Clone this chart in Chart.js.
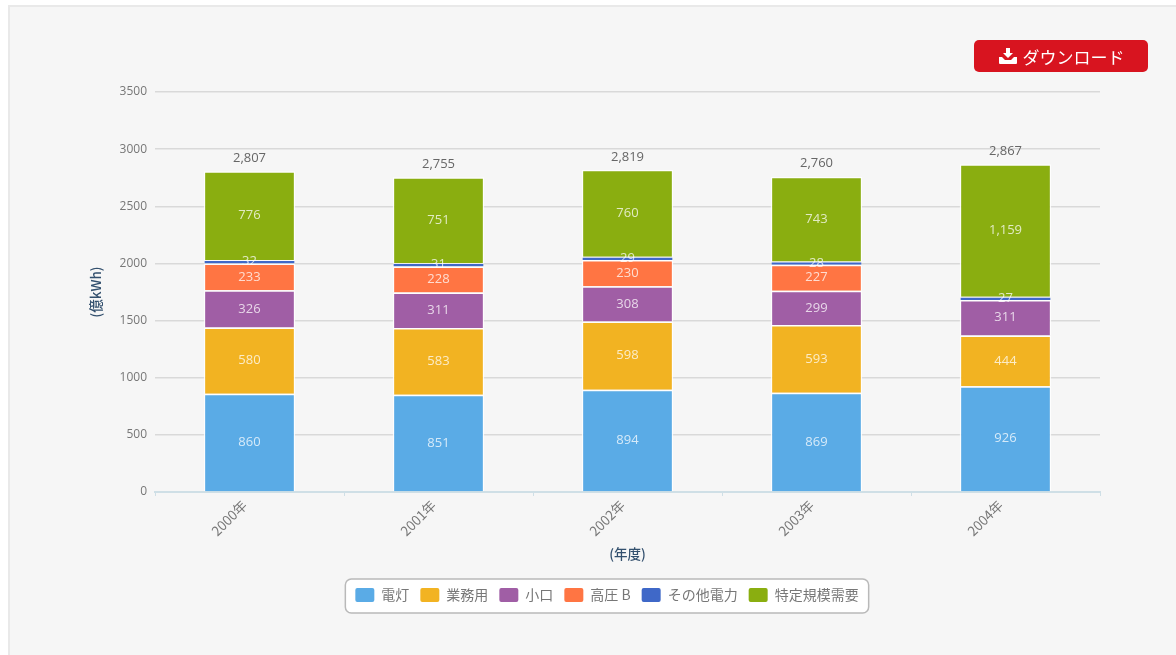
<!DOCTYPE html>
<html lang="ja">
<head>
<meta charset="utf-8">
<title>電力需要</title>
<script src="https://cdn.jsdelivr.net/npm/chart.js@4/dist/chart.umd.min.js"></script>
<style>
  html, body { margin: 0; width: 1176px; height: 655px; overflow: hidden; background: #fff; }
  #panel { position: absolute; left: 8px; top: 5px; width: 1180px; height: 660px; background: #f6f6f6; border: 2px solid #e9e9e9; box-sizing: border-box; }
  #chartWrap { position: absolute; left: 0; top: 0; width: 1176px; height: 655px; filter: blur(0.6px); }
  #download { position: absolute; left: 974px; top: 40px; width: 174px; height: 32px; background: #d8141f; color: #fff; border: 0; border-radius: 5px; font: 17px "Noto Sans CJK JP", sans-serif; display: flex; align-items: center; justify-content: center; gap: 5px; padding: 0; filter: blur(0.5px); }
</style>
</head>
<body>
<div id="panel"></div>
<div id="chartWrap"><canvas id="dataChart" width="1176" height="655"></canvas></div>
<button id="download">
  <svg width="20" height="16" viewBox="0 0 20 16"><path fill="#fff" d="M8 0h4v5h3l-5 5-5-5h3zM1 9h3l3 3h6l3-3h3v6a1 1 0 0 1-1 1H2a1 1 0 0 1-1-1z"/></svg>
  ダウンロード
</button>
<script>
// values (億kWh)
const years = ['2000年', '2001年', '2002年', '2003年', '2004年'];
const dento = [860, 851, 894, 869, 926];
const gyomu = [580, 583, 598, 593, 444];
const koguchi = [326, 311, 308, 299, 311];
const koatsuB = [233, 228, 230, 227, null];
const sonota = [32, 31, 29, 28, 27];
const tokutei = [776, 751, 760, 743, 1159];
const totals = [2807, 2755, 2819, 2760, 2867];
const yTicks = [0, 500, 1000, 1500, 2000, 2500, 3000, 3500];

const numFont = '"Open Sans", sans-serif';
const jpFont = '"Noto Sans CJK JP", sans-serif';
const legendShift = 15; // the legend sits right of the plot's centre

// value labels inside the bars and the totals on top
const barLabels = {
  id: 'barLabels',
  afterDatasetsDraw(chart) {
    const ctx = chart.ctx;
    ctx.save();
    ctx.textAlign = 'center';
    ctx.textBaseline = 'middle';
    chart.data.datasets.forEach((ds, i) => {
      chart.getDatasetMeta(i).data.forEach((bar, j) => {
        if (ds.data[j] == null) return;
        ctx.font = '13px ' + numFont;
        ctx.fillStyle = 'rgba(255,255,255,0.75)';
        ctx.fillText(ds.data[j].toLocaleString('en-US'), bar.x, (bar.y + bar.base) / 2);
      });
    });
    const top = chart.getDatasetMeta(chart.data.datasets.length - 1).data;
    ctx.font = '500 13px ' + numFont;
    ctx.fillStyle = '#666';
    totals.forEach((t, j) => ctx.fillText(t.toLocaleString('en-US'), top[j].x, top[j].y - 13));
    ctx.restore();
  }
};

// rounded white box behind the legend
const legendBox = {
  id: 'legendBox',
  afterLayout(chart) {
    const legend = chart.legend;
    legend.left += legendShift;
    legend.right += legendShift;
    legend.legendHitBoxes.forEach(hit => { hit.left += legendShift; });
  },
  beforeDraw(chart) {
    const hits = chart.legend.legendHitBoxes;
    const last = hits[hits.length - 1];
    const x = hits[0].left - 10, y = hits[0].top - 9;
    const w = last.left + last.width - hits[0].left + 20, h = 34;
    const ctx = chart.ctx;
    ctx.save();
    ctx.beginPath();
    ctx.roundRect(x, y, w, h, 6);
    ctx.fillStyle = '#fff';
    ctx.fill();
    ctx.lineWidth = 1.5;
    ctx.strokeStyle = '#b9b9b9';
    ctx.stroke();
    ctx.restore();
  }
};

function makeSet(label, data, color) {
  return { label, data, backgroundColor: color, borderColor: 'rgba(255,255,255,0.85)', borderWidth: 1.5, borderRadius: 0, barPercentage: 0.485, categoryPercentage: 1 };
}

const thinSet = makeSet('その他電力', sonota, '#3f68c8');
thinSet.borderWidth = 1;
thinSet.borderColor = 'rgba(255,255,255,0.5)';

new Chart(document.getElementById('dataChart').getContext('2d'), {
  type: 'bar',
  data: {
    labels: years,
    datasets: [
      makeSet('電灯', dento, '#5aabe6'),
      makeSet('業務用', gyomu, '#f2b322'),
      makeSet('小口', koguchi, '#a05ea5'),
      makeSet('高圧 B', koatsuB, '#ff7543'),
      thinSet,
      makeSet('特定規模需要', tokutei, '#8aae10')
    ]
  },
  options: {
    responsive: false,
    animation: false,
    layout: { padding: { left: 84, right: 76, top: 92, bottom: 43 } },
    plugins: {
      tooltip: { enabled: false },
      legend: {
        position: 'bottom',
        labels: {
          boxWidth: 19, boxHeight: 14, padding: 11, color: '#777', font: { family: jpFont, size: 14 },
          generateLabels(chart) {
            return chart.data.datasets.map((ds, i) => ({
              text: ds.label, fillStyle: ds.backgroundColor, strokeStyle: ds.backgroundColor, lineWidth: 0,
              fontColor: '#777', borderRadius: 2, datasetIndex: i
            }));
          },
          useBorderRadius: true
        }
      }
    },
    scales: {
      x: {
        stacked: true,
        afterFit(scale) { scale.height = 85; },
        border: { color: '#cfdfe6', width: 2 },
        grid: { drawOnChartArea: false, drawTicks: true, tickLength: 4, color: '#cfdfe6' },
        ticks: { color: '#777', maxRotation: 45, minRotation: 45, labelOffset: -5, padding: 1, font: { family: jpFont, size: 13.5 } },
        title: { display: true, text: '(年度)', color: '#33506e', padding: { top: 4, bottom: 15 }, font: { family: jpFont, size: 13.5, weight: '500' } }
      },
      y: {
        stacked: true,
        min: 0,
        max: 3500,
        afterFit(scale) { scale.width = 71; },
        afterBuildTicks(scale) { scale.ticks = yTicks.map(value => ({ value })); },
        border: { display: false },
        grid: { color: '#d9d9d9', lineWidth: 1.5, drawTicks: false },
        ticks: { color: '#777', padding: 8, callback: value => String(value), font: { family: numFont, size: 12 } },
        title: { display: true, text: '(億kWh)', color: '#33506e', font: { family: jpFont, size: 13.5, weight: '500' } }
      }
    }
  },
  plugins: [legendBox, barLabels]
});
</script>
</body>
</html>
